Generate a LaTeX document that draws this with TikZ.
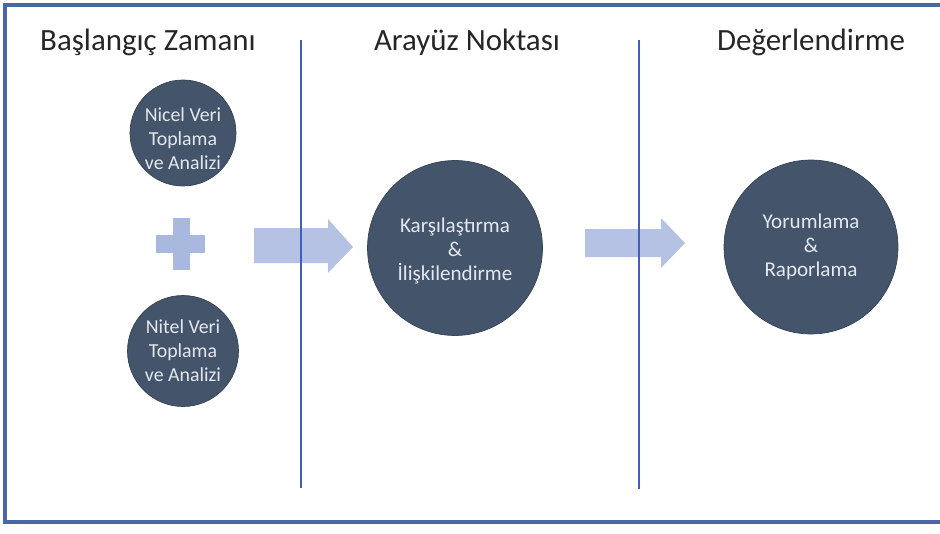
\documentclass[tikz,border=0pt]{standalone}
\usepackage{fontspec}
\setmainfont{Carlito}
\definecolor{framecol}{HTML}{4A66A6}
\definecolor{dividercol}{HTML}{3F5FBF}
\definecolor{discfill}{HTML}{44546A}
\definecolor{disctext}{HTML}{E3E7EE}
\definecolor{flowcol}{HTML}{A9B8DF}
\tikzset{
  heading/.style={font=\fontsize{17.6}{20}\selectfont, text=black!85, anchor=center},
  disc/.style={circle, fill=discfill, draw=discfill!80!black, line width=0.4pt,
    inner sep=0pt},
  disclabel/.style={text=disctext, align=center, inner sep=0pt,
    font=\fontsize{12}{13.6}\selectfont},
  smalllabel/.style={disclabel, font=\fontsize{11.3}{13.6}\selectfont},
  divider/.style={draw=dividercol, line width=1.5pt},
  flow/.style={fill=flowcol, draw=none, fill opacity=0.85},
}
\begin{document}
\begin{tikzpicture}[x=0.02cm, y=-0.02cm]
  \useasboundingbox (0,0) rectangle (940,534);
  \fill[white] (0,0) rectangle (940,534);

  % outer frame (open on the right)
  \draw[framecol, line width=2pt] (942,5) -- (5,5) -- (5,522) -- (942,522);

  % phase headings
  \node[heading] (h1) at (148,42) {Başlangıç Zamanı};
  \node[heading] (h2) at (467,42) {Arayüz Noktası};
  \node[heading] (h3) at (811,42) {Değerlendirme};

  % block arrows between the phases
  \fill[flow] (254,228) -- (328,228) -- (328,219) -- (353,247)
              -- (328,273) -- (328,263) -- (254,263) -- cycle;
  \fill[flow] (585,229) -- (661,229) -- (661,218) -- (685,243)
              -- (661,268) -- (661,257) -- (585,257) -- cycle;

  % phase dividers
  \coordinate (d1t) at (301,40);
  \coordinate (d1b) at (301,488);
  \coordinate (d2t) at (639,40);
  \coordinate (d2b) at (639,489);
  \draw[divider] (d1t) -- (d1b);
  \draw[divider] (d2t) -- (d2b);

  % plus sign between the two data strands
  \fill[flowcol] (156,235) rectangle (205,253);
  \fill[flowcol] (173,218) rectangle (190,270);

  % process discs
  \node[disc, minimum size=2.12cm] (nicel) at (183,133) {};
  \node[disc, minimum size=2.22cm] (nitel) at (183,351) {};
  \node[disc, minimum size=3.5cm] (karsi) at (455,248) {};
  \node[disc, minimum size=3.48cm] (yorum) at (811,247) {};

  % disc captions
  \node[smalllabel] (nicelt) at (183,139) {Nicel Veri\\Toplama\\ve Analizi};
  \node[smalllabel] (nitelt) at (183,351) {Nitel Veri\\Toplama\\ve Analizi};
  \node[disclabel] (karsit) at (455,251) {Karşılaştırma\\\&\\İlişkilendirme};
  \node[disclabel] (yorumt) at (811,247) {Yorumlama\\\&\\Raporlama};
\end{tikzpicture}
\end{document}
